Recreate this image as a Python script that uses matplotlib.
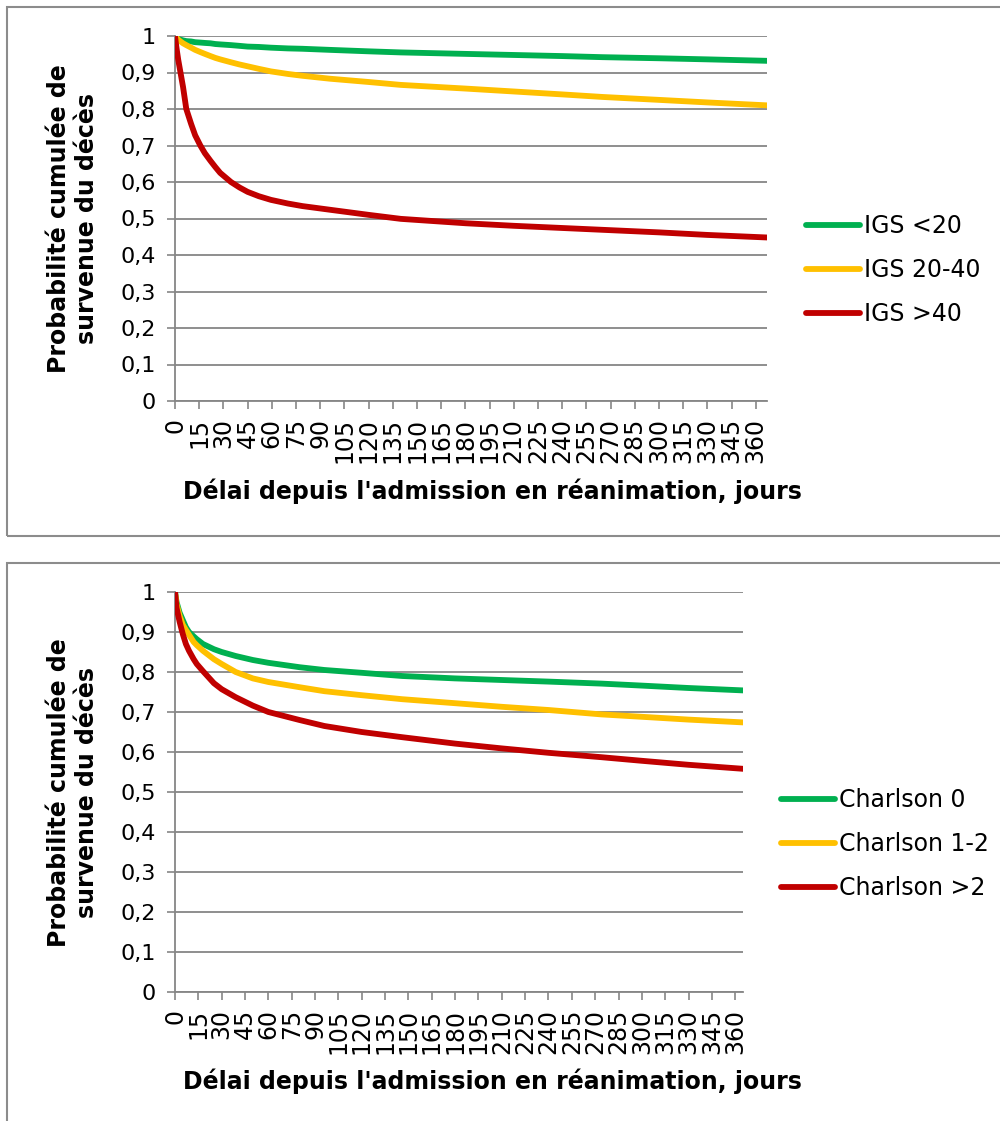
import matplotlib
matplotlib.use('Agg')
import matplotlib.pyplot as plt
from matplotlib.patches import Rectangle

plt.rcParams['font.family'] = ['DejaVu Sans']

# survival curves (days since ICU admission)
days_igs = [0, 0.5, 1, 2, 3.4, 5, 7, 10, 12.5, 15.7, 18.5, 22, 25, 28, 34.7, 40, 45,
            52, 59.5, 70, 79, 96, 120, 140, 180, 210, 240, 265, 300, 330, 367]
igs_lt20 = [1.0, 0.997, 0.995, 0.992, 0.990, 0.988, 0.986, 0.985, 0.983, 0.982,
            0.981, 0.980, 0.978, 0.977, 0.975, 0.973, 0.971,
            0.970, 0.968, 0.966, 0.965, 0.962, 0.958, 0.955,
            0.951, 0.948, 0.945, 0.942, 0.939, 0.936, 0.932]
igs_20_40 = [1.0, 0.997, 0.995, 0.99, 0.985, 0.980, 0.975, 0.968, 0.962, 0.956,
             0.951, 0.945, 0.940, 0.936, 0.928, 0.922, 0.917,
             0.910, 0.903, 0.896, 0.891, 0.883, 0.874, 0.866,
             0.856, 0.848, 0.840, 0.833, 0.825, 0.818, 0.810]
igs_gt40 = [1.0, 0.982, 0.965, 0.935, 0.90, 0.86, 0.80, 0.759, 0.728, 0.70,
            0.679, 0.658, 0.641, 0.625, 0.60, 0.585, 0.573,
            0.561, 0.551, 0.541, 0.534, 0.524, 0.51, 0.499,
            0.487, 0.48, 0.474, 0.469, 0.462, 0.455, 0.448]

days_ch = [0, 1, 3, 5, 7, 9, 12, 14, 18, 25, 30, 39, 50, 60, 80, 96, 120, 146,
           180, 210, 240, 274, 300, 330, 365]
charlson_0 = [1.0, 0.975, 0.948, 0.93, 0.912, 0.90, 0.889, 0.882, 0.870, 0.857,
              0.85, 0.84, 0.83, 0.823, 0.812, 0.805, 0.798, 0.79,
              0.784, 0.780, 0.776, 0.771, 0.766, 0.760, 0.754]
charlson_1_2 = [1.0, 0.97, 0.94, 0.918, 0.905, 0.893, 0.875, 0.867, 0.853, 0.832,
                0.82, 0.80, 0.784, 0.775, 0.762, 0.752, 0.742, 0.732,
                0.722, 0.713, 0.705, 0.694, 0.688, 0.681, 0.674]
charlson_gt2 = [1.0, 0.96, 0.925, 0.895, 0.87, 0.853, 0.832, 0.82, 0.802, 0.772,
                0.757, 0.737, 0.716, 0.70, 0.68, 0.665, 0.65, 0.637,
                0.621, 0.609, 0.598, 0.587, 0.578, 0.568, 0.558]

colors = ['#00B050', '#FFC000', '#C00000']
x_ticks = list(range(0, 361, 15))
y_ticks = [i / 10 for i in range(11)]
y_labels = ['0'] + ['0,%d' % i for i in range(1, 10)] + ['1']
grid_col = '#868686'

W, H = 1000, 1121
fig = plt.figure(figsize=(W / 100, H / 100), dpi=100)


def px_axes(left, top, right, bottom):
    return fig.add_axes([left / W, 1 - bottom / H, (right - left) / W, (bottom - top) / H])


def draw_panel(ax, days, series, names, xmax):
    for vals, c, name in zip(series, colors, names):
        ax.plot(days, vals, color=c, lw=4.2, solid_capstyle='round',
                solid_joinstyle='round', label=name, zorder=3)
    ax.set_xlim(0, xmax)
    ax.set_ylim(0, 1)
    ax.set_xticks(x_ticks)
    ax.set_xticklabels([str(t) for t in x_ticks], rotation=90, fontsize=17)
    ax.set_yticks(y_ticks)
    ax.set_yticklabels(y_labels, fontsize=16)
    ax.grid(axis='y', color=grid_col, lw=1.3)
    ax.set_axisbelow(True)
    for s in ['top', 'right']:
        ax.spines[s].set_visible(False)
    for s in ['left', 'bottom']:
        ax.spines[s].set_color(grid_col)
        ax.spines[s].set_linewidth(1.3)
    ax.tick_params(axis='x', length=6, width=1.2, color=grid_col, pad=6)
    ax.tick_params(axis='y', length=6, width=1.2, color=grid_col, pad=8)


# chart frames
fig.add_artist(Rectangle((7 / W, 1 - 536 / H), 1.1, 529 / H, transform=fig.transFigure,
                         fill=False, ec='#8c8c8c', lw=1.5))
fig.add_artist(Rectangle((7 / W, -0.1), 1.1, 0.1 + 1 - 563 / H, transform=fig.transFigure,
                         fill=False, ec='#8c8c8c', lw=1.5))

ax1 = px_axes(175, 36, 767, 401)
draw_panel(ax1, days_igs, [igs_lt20, igs_20_40, igs_gt40],
           ['IGS <20', 'IGS 20-40', 'IGS >40'], 367)
ax2 = px_axes(175, 592, 743, 992)
draw_panel(ax2, days_ch, [charlson_0, charlson_1_2, charlson_gt2],
           ['Charlson 0', 'Charlson 1-2', 'Charlson >2'], 365)

ylab = 'Probabilité cumulée de\nsurvenue du décès'
xlab = "Délai depuis l'admission en réanimation, jours"
for yc, xy in [(219, 491), (793, 1081)]:
    fig.text(73 / W, 1 - yc / H, ylab, rotation=90, ha='center', va='center',
             fontsize=17, fontweight='bold', linespacing=1.2)
    fig.text(492 / W, 1 - xy / H, xlab, ha='center', va='center',
             fontsize=17, fontweight='bold')

for ax, lx, ly in [(ax1, 806, 270), (ax2, 781, 844)]:
    ax.legend(loc='center left', bbox_to_anchor=(lx / W, 1 - ly / H),
              bbox_transform=fig.transFigure, frameon=False, fontsize=17,
              handlelength=2.3, handletextpad=0.15, labelspacing=0.85,
              borderpad=0, borderaxespad=0)

fig.savefig('out.png', dpi=100)
